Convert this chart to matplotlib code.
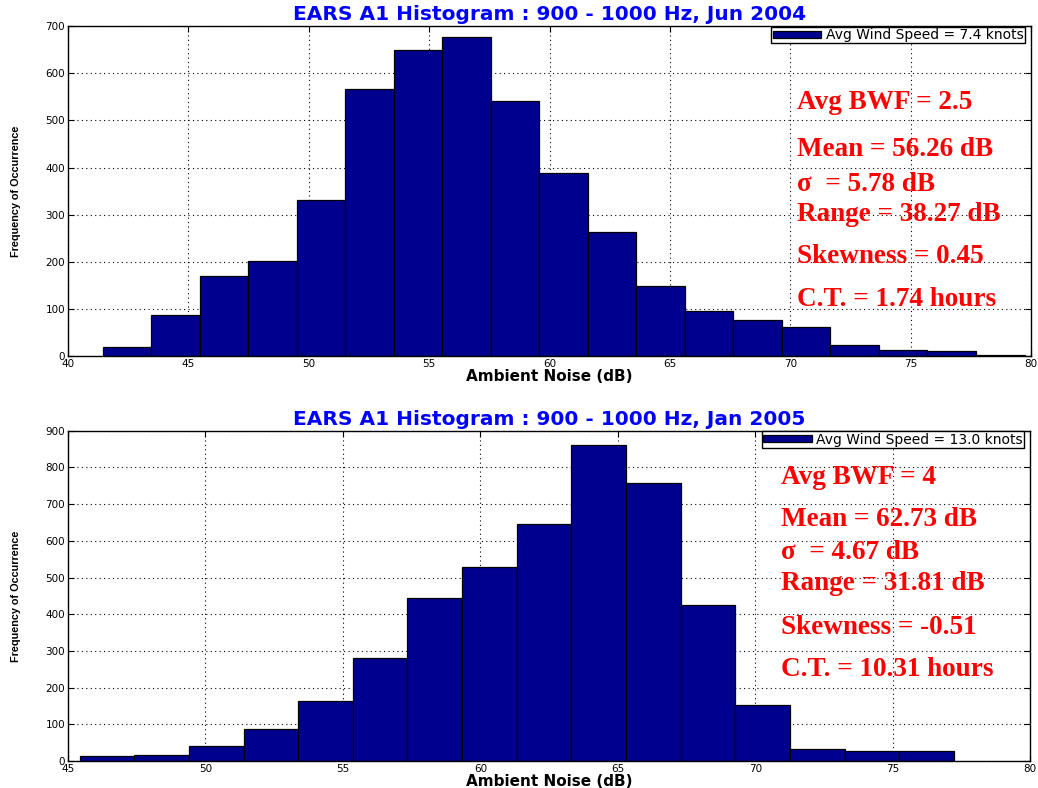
import numpy as np
import matplotlib
matplotlib.use("Agg")
import matplotlib.pyplot as plt

# June 2004 histogram (19 bins between the min and max levels)
jun_min, jun_max = 41.45, 79.72
jun_counts = [19, 87, 170, 201, 332, 566, 650, 676, 542, 389,
              263, 148, 96, 77, 62, 24, 14, 10, 2]
jun_stats = ["Avg BWF = 2.5", "Mean = 56.26 dB", "\u03c3  = 5.78 dB",
             "Range = 38.27 dB", "Skewness = 0.45", "C.T. = 1.74 hours"]

# January 2005 histogram (16 bins)
jan_min, jan_max = 45.42, 77.23
jan_counts = [13, 16, 40, 86, 164, 280, 443, 528, 645, 860,
              759, 426, 152, 33, 28, 28]
jan_stats = ["Avg BWF = 4", "Mean = 62.73 dB", "\u03c3  = 4.67 dB",
             "Range = 31.81 dB", "Skewness = -0.51", "C.T. = 10.31 hours"]

bar_color = "#00008F"


def draw_hist(ax, lo, hi, counts, title, legend_label, xlim, ylim,
              stats, stat_x, stat_y):
    edges = np.linspace(lo, hi, len(counts) + 1)
    ax.bar(edges[:-1], counts, width=np.diff(edges), align="edge",
           color=bar_color, edgecolor="black", linewidth=0.9,
           label=legend_label, zorder=2)
    ax.set_xlim(*xlim)
    ax.set_ylim(*ylim)
    ax.set_xticks(np.arange(xlim[0], xlim[1] + 1, 5))
    ax.set_yticks(np.arange(0, ylim[1] + 1, 100))
    ax.grid(True, color="black", linestyle=(0, (1, 3)), linewidth=0.8,
            zorder=1)
    ax.set_axisbelow(True)
    ax.tick_params(direction="in", top=True, right=True, length=4,
                   labelsize=7.5, pad=2)
    for s in ax.spines.values():
        s.set_linewidth(1.0)
        s.set_zorder(3)
    ax.set_title(title, color="blue", fontweight="bold", fontsize=14.5,
                 pad=4)
    ax.set_xlabel("Ambient Noise (dB)", fontweight="bold", fontsize=11,
                  labelpad=0)
    ax.set_ylabel("Frequency of Occurrence",
                  family=["Liberation Sans Narrow", "Liberation Sans"],
                  fontsize=7.8, fontweight="bold", labelpad=18)
    leg = ax.legend(loc="upper right", bbox_to_anchor=(0.994, 1.0),
                    fontsize=10, handlelength=3.5, handleheight=0.4,
                    borderpad=0.1, borderaxespad=0.05,
                    fancybox=False, framealpha=1, edgecolor="black",
                    handletextpad=0.3)
    leg.get_frame().set_linewidth(1.0)
    for txt, y in zip(stats, stat_y):
        ax.text(stat_x, y, txt, transform=ax.transAxes, color="red",
                fontsize=19.5, fontweight="bold",
                family=["Liberation Serif", "DejaVu Serif"],
                va="center", ha="left", zorder=4)


fig = plt.figure(figsize=(10.38, 7.88), dpi=100)
ax1 = fig.add_axes([0.0655, 0.548, 0.928, 0.419])
ax2 = fig.add_axes([0.0655, 0.0343, 0.927, 0.419])

draw_hist(ax1, jun_min, jun_max, jun_counts,
          "EARS A1 Histogram : 900 - 1000 Hz, Jun 2004",
          "Avg Wind Speed = 7.4 knots", (40, 80), (0, 700),
          jun_stats, 0.757, [0.767, 0.627, 0.521, 0.430, 0.303, 0.173])

draw_hist(ax2, jan_min, jan_max, jan_counts,
          "EARS A1 Histogram : 900 - 1000 Hz, Jan 2005",
          "Avg Wind Speed = 13.0 knots", (45, 80), (0, 900),
          jan_stats, 0.741, [0.858, 0.730, 0.630, 0.539, 0.403, 0.276])

fig.savefig("out.png", dpi=100)
